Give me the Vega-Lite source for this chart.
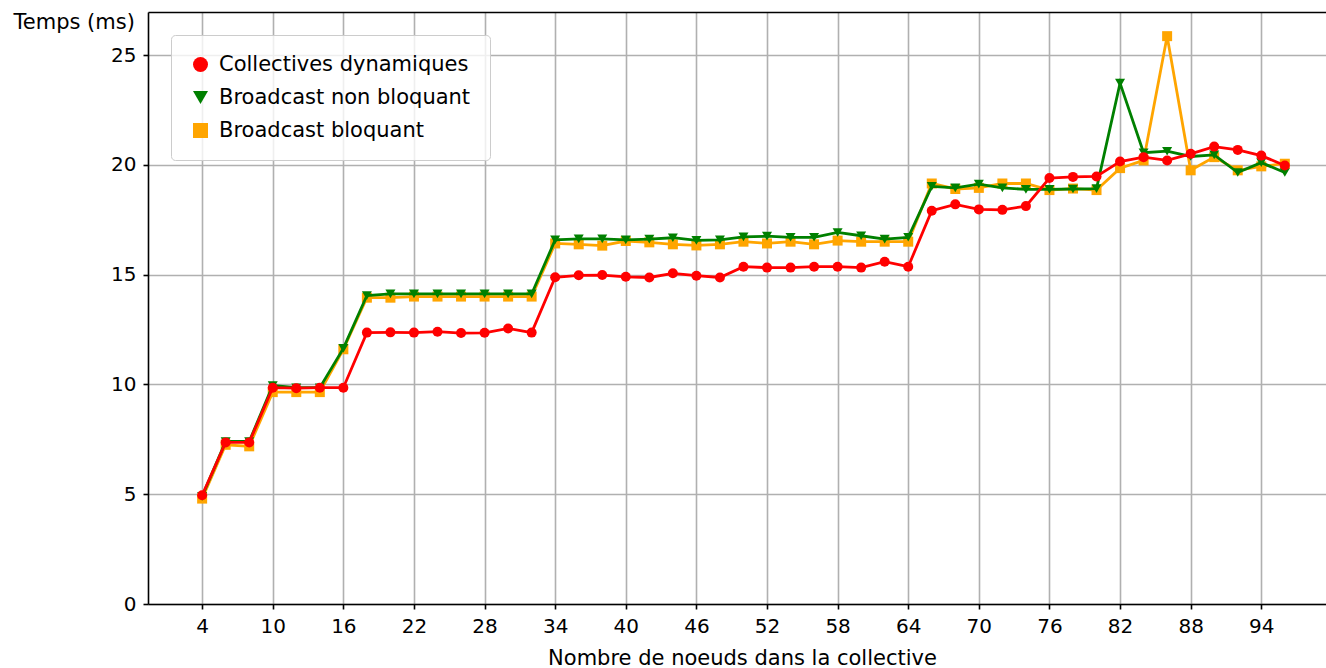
{
  "$schema": "https://vega.github.io/schema/vega-lite/v6.json",
  "width": 1178,
  "height": 592,
  "autosize": {"type": "none"},
  "padding": {"left": 148, "top": 12, "right": 0, "bottom": 64},
  "background": "white",
  "config": {
    "font": "DejaVu Sans",
    "view": {"stroke": null},
    "axis": {
      "labelFont": "DejaVu Sans", "labelFontSize": 20, "labelColor": "#000000",
      "titleFont": "DejaVu Sans", "titleFontSize": 21, "titleFontWeight": "normal", "titleColor": "#000000",
      "domainColor": "#000000", "domainWidth": 1.6,
      "tickColor": "#000000", "tickWidth": 1.6, "tickSize": 5,
      "gridColor": "#b0b0b0", "gridWidth": 1.6, "gridOpacity": 1,
      "labelPadding": 7
    },
    "legend": {
      "orient": "none", "legendX": 23, "legendY": 23, "title": null,
      "fillColor": "rgba(255,255,255,0.8)", "strokeColor": "#cccccc", "cornerRadius": 4,
      "padding": 19, "symbolSize": 225, "symbolStrokeWidth": 0, "symbolOpacity": 1,
      "labelFont": "DejaVu Sans", "labelFontSize": 21, "labelColor": "#000000",
      "labelOffset": 8, "rowPadding": 11, "labelLimit": 500
    }
  },
  "data": {
    "values": [
      {"n":4,"serie":"Collectives dynamiques","t":4.95},{"n":6,"serie":"Collectives dynamiques","t":7.36},{"n":8,"serie":"Collectives dynamiques","t":7.36},{"n":10,"serie":"Collectives dynamiques","t":9.85},{"n":12,"serie":"Collectives dynamiques","t":9.83},{"n":14,"serie":"Collectives dynamiques","t":9.85},{"n":16,"serie":"Collectives dynamiques","t":9.85},{"n":18,"serie":"Collectives dynamiques","t":12.36},{"n":20,"serie":"Collectives dynamiques","t":12.37},{"n":22,"serie":"Collectives dynamiques","t":12.36},{"n":24,"serie":"Collectives dynamiques","t":12.4},{"n":26,"serie":"Collectives dynamiques","t":12.34},{"n":28,"serie":"Collectives dynamiques","t":12.35},{"n":30,"serie":"Collectives dynamiques","t":12.55},{"n":32,"serie":"Collectives dynamiques","t":12.36},{"n":34,"serie":"Collectives dynamiques","t":14.88},{"n":36,"serie":"Collectives dynamiques","t":14.97},{"n":38,"serie":"Collectives dynamiques","t":14.98},{"n":40,"serie":"Collectives dynamiques","t":14.9},{"n":42,"serie":"Collectives dynamiques","t":14.87},{"n":44,"serie":"Collectives dynamiques","t":15.06},{"n":46,"serie":"Collectives dynamiques","t":14.95},{"n":48,"serie":"Collectives dynamiques","t":14.87},{"n":50,"serie":"Collectives dynamiques","t":15.36},{"n":52,"serie":"Collectives dynamiques","t":15.32},{"n":54,"serie":"Collectives dynamiques","t":15.32},{"n":56,"serie":"Collectives dynamiques","t":15.36},{"n":58,"serie":"Collectives dynamiques","t":15.36},{"n":60,"serie":"Collectives dynamiques","t":15.32},{"n":62,"serie":"Collectives dynamiques","t":15.59},{"n":64,"serie":"Collectives dynamiques","t":15.36},{"n":66,"serie":"Collectives dynamiques","t":17.91},{"n":68,"serie":"Collectives dynamiques","t":18.2},{"n":70,"serie":"Collectives dynamiques","t":17.97},{"n":72,"serie":"Collectives dynamiques","t":17.95},{"n":74,"serie":"Collectives dynamiques","t":18.12},{"n":76,"serie":"Collectives dynamiques","t":19.4},{"n":78,"serie":"Collectives dynamiques","t":19.45},{"n":80,"serie":"Collectives dynamiques","t":19.47},{"n":82,"serie":"Collectives dynamiques","t":20.15},{"n":84,"serie":"Collectives dynamiques","t":20.35},{"n":86,"serie":"Collectives dynamiques","t":20.2},{"n":88,"serie":"Collectives dynamiques","t":20.5},{"n":90,"serie":"Collectives dynamiques","t":20.83},{"n":92,"serie":"Collectives dynamiques","t":20.68},{"n":94,"serie":"Collectives dynamiques","t":20.42},{"n":96,"serie":"Collectives dynamiques","t":19.97},
      {"n":4,"serie":"Broadcast non bloquant","t":4.9},{"n":6,"serie":"Broadcast non bloquant","t":7.4},{"n":8,"serie":"Broadcast non bloquant","t":7.4},{"n":10,"serie":"Broadcast non bloquant","t":9.95},{"n":12,"serie":"Broadcast non bloquant","t":9.85},{"n":14,"serie":"Broadcast non bloquant","t":9.85},{"n":16,"serie":"Broadcast non bloquant","t":11.64},{"n":18,"serie":"Broadcast non bloquant","t":14.05},{"n":20,"serie":"Broadcast non bloquant","t":14.12},{"n":22,"serie":"Broadcast non bloquant","t":14.12},{"n":24,"serie":"Broadcast non bloquant","t":14.12},{"n":26,"serie":"Broadcast non bloquant","t":14.12},{"n":28,"serie":"Broadcast non bloquant","t":14.12},{"n":30,"serie":"Broadcast non bloquant","t":14.12},{"n":32,"serie":"Broadcast non bloquant","t":14.12},{"n":34,"serie":"Broadcast non bloquant","t":16.58},{"n":36,"serie":"Broadcast non bloquant","t":16.63},{"n":38,"serie":"Broadcast non bloquant","t":16.63},{"n":40,"serie":"Broadcast non bloquant","t":16.58},{"n":42,"serie":"Broadcast non bloquant","t":16.62},{"n":44,"serie":"Broadcast non bloquant","t":16.68},{"n":46,"serie":"Broadcast non bloquant","t":16.56},{"n":48,"serie":"Broadcast non bloquant","t":16.58},{"n":50,"serie":"Broadcast non bloquant","t":16.72},{"n":52,"serie":"Broadcast non bloquant","t":16.75},{"n":54,"serie":"Broadcast non bloquant","t":16.7},{"n":56,"serie":"Broadcast non bloquant","t":16.7},{"n":58,"serie":"Broadcast non bloquant","t":16.92},{"n":60,"serie":"Broadcast non bloquant","t":16.77},{"n":62,"serie":"Broadcast non bloquant","t":16.62},{"n":64,"serie":"Broadcast non bloquant","t":16.7},{"n":66,"serie":"Broadcast non bloquant","t":19.02},{"n":68,"serie":"Broadcast non bloquant","t":18.95},{"n":70,"serie":"Broadcast non bloquant","t":19.12},{"n":72,"serie":"Broadcast non bloquant","t":18.95},{"n":74,"serie":"Broadcast non bloquant","t":18.88},{"n":76,"serie":"Broadcast non bloquant","t":18.88},{"n":78,"serie":"Broadcast non bloquant","t":18.9},{"n":80,"serie":"Broadcast non bloquant","t":18.92},{"n":82,"serie":"Broadcast non bloquant","t":23.72},{"n":84,"serie":"Broadcast non bloquant","t":20.55},{"n":86,"serie":"Broadcast non bloquant","t":20.62},{"n":88,"serie":"Broadcast non bloquant","t":20.38},{"n":90,"serie":"Broadcast non bloquant","t":20.45},{"n":92,"serie":"Broadcast non bloquant","t":19.65},{"n":94,"serie":"Broadcast non bloquant","t":20.1},{"n":96,"serie":"Broadcast non bloquant","t":19.65},
      {"n":4,"serie":"Broadcast bloquant","t":4.8},{"n":6,"serie":"Broadcast bloquant","t":7.25},{"n":8,"serie":"Broadcast bloquant","t":7.18},{"n":10,"serie":"Broadcast bloquant","t":9.65},{"n":12,"serie":"Broadcast bloquant","t":9.65},{"n":14,"serie":"Broadcast bloquant","t":9.65},{"n":16,"serie":"Broadcast bloquant","t":11.6},{"n":18,"serie":"Broadcast bloquant","t":13.95},{"n":20,"serie":"Broadcast bloquant","t":13.95},{"n":22,"serie":"Broadcast bloquant","t":14.0},{"n":24,"serie":"Broadcast bloquant","t":14.0},{"n":26,"serie":"Broadcast bloquant","t":14.0},{"n":28,"serie":"Broadcast bloquant","t":14.0},{"n":30,"serie":"Broadcast bloquant","t":14.0},{"n":32,"serie":"Broadcast bloquant","t":14.0},{"n":34,"serie":"Broadcast bloquant","t":16.42},{"n":36,"serie":"Broadcast bloquant","t":16.38},{"n":38,"serie":"Broadcast bloquant","t":16.32},{"n":40,"serie":"Broadcast bloquant","t":16.53},{"n":42,"serie":"Broadcast bloquant","t":16.47},{"n":44,"serie":"Broadcast bloquant","t":16.38},{"n":46,"serie":"Broadcast bloquant","t":16.33},{"n":48,"serie":"Broadcast bloquant","t":16.38},{"n":50,"serie":"Broadcast bloquant","t":16.5},{"n":52,"serie":"Broadcast bloquant","t":16.42},{"n":54,"serie":"Broadcast bloquant","t":16.5},{"n":56,"serie":"Broadcast bloquant","t":16.38},{"n":58,"serie":"Broadcast bloquant","t":16.55},{"n":60,"serie":"Broadcast bloquant","t":16.5},{"n":62,"serie":"Broadcast bloquant","t":16.5},{"n":64,"serie":"Broadcast bloquant","t":16.5},{"n":66,"serie":"Broadcast bloquant","t":19.15},{"n":68,"serie":"Broadcast bloquant","t":18.9},{"n":70,"serie":"Broadcast bloquant","t":18.95},{"n":72,"serie":"Broadcast bloquant","t":19.15},{"n":74,"serie":"Broadcast bloquant","t":19.15},{"n":76,"serie":"Broadcast bloquant","t":18.85},{"n":78,"serie":"Broadcast bloquant","t":18.92},{"n":80,"serie":"Broadcast bloquant","t":18.85},{"n":82,"serie":"Broadcast bloquant","t":19.85},{"n":84,"serie":"Broadcast bloquant","t":20.2},{"n":86,"serie":"Broadcast bloquant","t":25.86},{"n":88,"serie":"Broadcast bloquant","t":19.75},{"n":90,"serie":"Broadcast bloquant","t":20.35},{"n":92,"serie":"Broadcast bloquant","t":19.75},{"n":94,"serie":"Broadcast bloquant","t":19.93},{"n":96,"serie":"Broadcast bloquant","t":20.05}
    ]
  },
  "encoding": {
    "y": {
      "field": "t", "type": "quantitative",
      "scale": {"domain": [0, 26.96], "nice": false, "zero": false},
      "axis": {
        "values": [0, 5, 10, 15, 20, 25],
        "title": "Temps (ms)", "titleAngle": 0, "titleX": -135, "titleY": 16,
        "titleAlign": "left", "titleBaseline": "alphabetic"
      }
    }
  },
  "layer": [
    {
      "transform": [{"filter": "datum.serie === 'Broadcast bloquant'"}],
      "mark": {"type": "line", "strokeWidth": 2.8, "color": "#ffa500"},
      "encoding": {
        "x": {
          "field": "n", "type": "quantitative",
          "scale": {"domain": [-0.6, 99.5], "nice": false, "zero": false},
          "axis": {
            "values": [4, 10, 16, 22, 28, 34, 40, 46, 52, 58, 64, 70, 76, 82, 88, 94],
            "title": "Nombre de noeuds dans la collective",
            "titleX": 594, "titleY": 60, "titleBaseline": "alphabetic", "titleAlign": "center"
          }
        }
      }
    },
    {
      "transform": [{"filter": "datum.serie === 'Broadcast bloquant'"}],
      "mark": {"type": "point", "filled": true, "opacity": 1, "size": 100, "strokeWidth": 0},
      "encoding": {
        "x": {"field": "n", "type": "quantitative", "scale": {"domain": [-0.6, 99.5], "nice": false, "zero": false},
          "axis": {"orient": "top", "labels": false, "ticks": false, "grid": false, "title": null, "domain": true}},
        "color": {"field": "serie", "type": "nominal",
          "scale": {"domain": ["Collectives dynamiques", "Broadcast non bloquant", "Broadcast bloquant"], "range": ["#ff0000", "#008000", "#ffa500"]}},
        "shape": {"field": "serie", "type": "nominal",
          "scale": {"domain": ["Collectives dynamiques", "Broadcast non bloquant", "Broadcast bloquant"], "range": ["circle", "triangle-down", "square"]}}
      }
    },
    {
      "transform": [{"filter": "datum.serie === 'Broadcast non bloquant'"}],
      "mark": {"type": "line", "strokeWidth": 2.8, "color": "#008000"},
      "encoding": {
        "x": {"field": "n", "type": "quantitative", "scale": {"domain": [-0.6, 99.5], "nice": false, "zero": false}, "axis": null}
      }
    },
    {
      "transform": [{"filter": "datum.serie === 'Broadcast non bloquant'"}],
      "mark": {"type": "point", "filled": true, "opacity": 1, "size": 100, "strokeWidth": 0},
      "encoding": {
        "x": {"field": "n", "type": "quantitative", "scale": {"domain": [-0.6, 99.5], "nice": false, "zero": false}, "axis": null},
        "color": {"field": "serie", "type": "nominal"},
        "shape": {"field": "serie", "type": "nominal"}
      }
    },
    {
      "transform": [{"filter": "datum.serie === 'Collectives dynamiques'"}],
      "mark": {"type": "line", "strokeWidth": 2.8, "color": "#ff0000"},
      "encoding": {
        "x": {"field": "n", "type": "quantitative", "scale": {"domain": [-0.6, 99.5], "nice": false, "zero": false}, "axis": null}
      }
    },
    {
      "transform": [{"filter": "datum.serie === 'Collectives dynamiques'"}],
      "mark": {"type": "point", "filled": true, "opacity": 1, "size": 100, "strokeWidth": 0},
      "encoding": {
        "x": {"field": "n", "type": "quantitative", "scale": {"domain": [-0.6, 99.5], "nice": false, "zero": false}, "axis": null},
        "color": {"field": "serie", "type": "nominal"},
        "shape": {"field": "serie", "type": "nominal"}
      }
    }
  ],
  "resolve": {"axis": {"x": "independent"}}
}
